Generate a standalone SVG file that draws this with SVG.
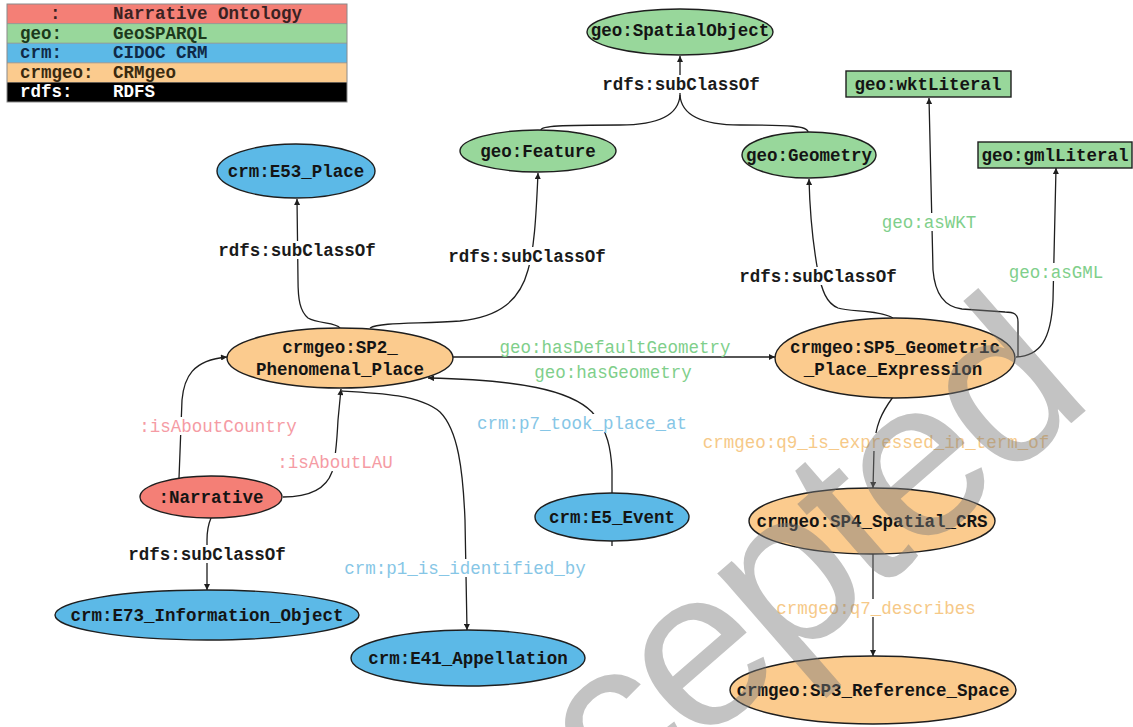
<svg xmlns="http://www.w3.org/2000/svg" width="1133" height="727" viewBox="0 0 1133 727">
<style>
text{font-family:"Liberation Mono","Courier New",monospace;font-size:17.5px}
.nt{font-weight:bold;fill:#141414;text-anchor:middle}
.lt{font-weight:bold;fill:#1a1a1a}
.el{text-anchor:middle}
.blk{font-weight:bold;fill:#1a1a1a}
.grn{fill:#7fcf8b}
.pnk{fill:#f59ba4}
.blu{fill:#86c6e6}
.org{fill:#f6c988}
.bg{fill:#ffffff}
ellipse,.box{stroke:#1e1e1e;stroke-width:1.4}
.r{fill:#f47f76}.g{fill:#98d79b}.b{fill:#5cb9e7}.o{fill:#fbcb8e}
.edge{fill:none;stroke:#1e1e1e;stroke-width:1.3}
.wm{font-family:"Liberation Sans",Arial,sans-serif;font-size:225px;letter-spacing:-8px;fill:#7b7b7b;fill-opacity:0.45}
</style>
<defs>
<marker id="ah" viewBox="0 0 10 10" refX="10" refY="5" markerWidth="7" markerHeight="6" markerUnits="userSpaceOnUse" orient="auto">
<path d="M0,0 L10,5 L0,10 z" fill="#1e1e1e"/>
</marker>
</defs>
<rect width="1133" height="727" fill="#ffffff"/>

<g id="legend">
<rect x="7" y="4" width="340" height="19.6" class="r"/>
<rect x="7" y="23.6" width="340" height="19.6" class="g"/>
<rect x="7" y="43.2" width="340" height="19.6" class="b"/>
<rect x="7" y="62.8" width="340" height="19.6" class="o"/>
<rect x="7" y="82.4" width="340" height="19.6" fill="#000"/>
<rect x="7" y="4" width="340" height="98" fill="none" stroke="#8a8a8a" stroke-width="1"/>
<g stroke="#8a8a8a" stroke-width="0.8"><line x1="7" y1="23.6" x2="347" y2="23.6"/><line x1="7" y1="43.2" x2="347" y2="43.2"/><line x1="7" y1="62.8" x2="347" y2="62.8"/></g>
<text x="50" y="19" class="lt" style="fill:#3a2222">:</text>
<text x="113" y="19" class="lt" style="fill:#3a2222">Narrative Ontology</text>
<text x="20" y="38.6" class="lt" style="fill:#1c3a1c">geo:</text>
<text x="113" y="38.6" class="lt" style="fill:#1c3a1c">GeoSPARQL</text>
<text x="20" y="58.2" class="lt" style="fill:#0f2a48">crm:</text>
<text x="113" y="58.2" class="lt" style="fill:#0f2a48">CIDOC CRM</text>
<text x="20" y="77.8" class="lt" style="fill:#3a2a10">crmgeo:</text>
<text x="113" y="77.8" class="lt" style="fill:#3a2a10">CRMgeo</text>
<text x="20" y="97.4" class="lt" style="fill:#ffffff">rdfs:</text>
<text x="113" y="97.4" class="lt" style="fill:#ffffff">RDFS</text>
</g>

<g id="connectors">
<path class="edge" d="M541,130 C541,126 560,125 620,125 C668,125 679,110 680,95 L680,56" marker-end="url(#ah)"/>
<path class="edge" d="M808,132 C808,126 790,125 740,125 C692,125 681,110 680,95"/>
<path class="edge" d="M340,328 C336,322 318,324 308,318 C300,311 298,300 298,280 L297,199" marker-end="url(#ah)"/>
<path class="edge" d="M370,328 C380,322 420,324 460,321 C500,317 520,300 528,270 C534,250 536,220 538,173" marker-end="url(#ah)"/>
<path class="edge" d="M893,318 C880,310 850,312 838,308 C826,303 822,290 818,272 C814,250 810,220 809,179" marker-end="url(#ah)"/>
<path class="edge" d="M1018,357 L1018,322 C1018,314 1014,312 1005,312 L962,309 C945,307 935,295 933,270 L929,98" marker-end="url(#ah)"/>
<path class="edge" d="M1016,357 C1040,356 1051,340 1053,300 L1056,168" marker-end="url(#ah)"/>
<path class="edge" d="M453,357 L775,357" marker-end="url(#ah)"/>
<path class="edge" d="M612,546 L612,470 C611,450 608,430 592,412 C570,390 520,380 428,378" marker-end="url(#ah)"/>
<path class="edge" d="M179,478 L182,400 C184,378 192,360 227,357" marker-end="url(#ah)"/>
<path class="edge" d="M283,497 C305,497 325,492 332,472 C336,458 337,440 338,420 L341,389" marker-end="url(#ah)"/>
<path class="edge" d="M342,391 C380,393 420,395 440,412 C458,430 463,470 465,520 L467,630" marker-end="url(#ah)"/>
<path class="edge" d="M211,518 C208,525 207,530 207,540 L207,590" marker-end="url(#ah)"/>
<path class="edge" d="M893,397 C882,412 875,425 874,450 L873,488" marker-end="url(#ah)"/>
<path class="edge" d="M873,554 L873,656" marker-end="url(#ah)"/>

<rect class="bg" x="602" y="75" width="158" height="18"/>
<rect class="bg" x="218" y="241" width="158" height="18"/>
<rect class="bg" x="448" y="247" width="158" height="18"/>
<rect class="bg" x="739" y="267" width="158" height="18"/>
<rect class="bg" x="128" y="545" width="158" height="18"/>
<rect class="bg" x="881" y="213" width="96" height="18"/>
<rect class="bg" x="1008" y="263" width="96" height="18"/>
<rect class="bg" x="139" y="417" width="160" height="18"/>
<rect class="bg" x="277" y="453" width="117" height="18"/>
<rect class="bg" x="477" y="414" width="211" height="18"/>
<rect class="bg" x="344" y="559" width="243" height="18"/>
<rect class="bg" x="702" y="433" width="348" height="18"/>
<rect class="bg" x="775" y="599" width="201" height="18"/>

<text class="el blk" x="681" y="90">rdfs:subClassOf</text>
<text class="el blk" x="297" y="256">rdfs:subClassOf</text>
<text class="el blk" x="527" y="262">rdfs:subClassOf</text>
<text class="el blk" x="818" y="282">rdfs:subClassOf</text>
<text class="el blk" x="207" y="560">rdfs:subClassOf</text>
<text class="el grn" x="929" y="228">geo:asWKT</text>
<text class="el grn" x="1056" y="278">geo:asGML</text>
<text class="el grn" x="615" y="353">geo:hasDefaultGeometry</text>
<text class="el grn" x="613" y="378">geo:hasGeometry</text>
<text class="el pnk" x="218" y="432">:isAboutCountry</text>
<text class="el pnk" x="335" y="468">:isAboutLAU</text>
<text class="el blu" x="582" y="429">crm:p7_took_place_at</text>
<text class="el blu" x="465" y="574">crm:p1_is_identified_by</text>
<text class="el org" x="876" y="448">crmgeo:q9_is_expressed_in_term_of</text>
<text class="el org" x="876" y="614">crmgeo:q7_describes</text>
</g>

<g id="n-spatialobject"><ellipse cx="680" cy="32" rx="93" ry="23" class="g"/><text class="nt" x="680" y="36">geo:SpatialObject</text></g>
<g id="n-feature"><ellipse cx="538" cy="151" rx="78" ry="21" class="g"/><text class="nt" x="538" y="157">geo:Feature</text></g>
<g id="n-geometry"><ellipse cx="809" cy="155" rx="67" ry="23" class="g"/><text class="nt" x="809" y="161">geo:Geometry</text></g>
<g id="n-wkt"><rect x="846" y="71" width="165" height="26" class="box g"/><text class="nt" x="928" y="90">geo:wktLiteral</text></g>
<g id="n-gml"><rect x="978" y="142" width="154" height="26" class="box g"/><text class="nt" x="1055" y="161">geo:gmlLiteral</text></g>
<g id="n-e53"><ellipse cx="296" cy="171" rx="79" ry="27" class="b"/><text class="nt" x="296" y="177">crm:E53_Place</text></g>
<g id="n-sp2"><ellipse cx="340" cy="358" rx="113" ry="30" class="o"/><text class="nt" x="340" y="353">crmgeo:SP2_</text><text class="nt" x="340" y="375">Phenomenal_Place</text></g>
<g id="n-sp5"><ellipse cx="895" cy="358" rx="120" ry="40" class="o"/><text class="nt" x="895" y="353">crmgeo:SP5_Geometric</text><text class="nt" x="893" y="375">_Place_Expression</text></g>
<g id="n-narrative"><ellipse cx="211" cy="497" rx="71" ry="21" class="r"/><text class="nt" x="211" y="503">:Narrative</text></g>
<g id="n-e73"><ellipse cx="207" cy="615" rx="152" ry="25" class="b"/><text class="nt" x="207" y="621">crm:E73_Information_Object</text></g>
<g id="n-e41"><ellipse cx="468" cy="658" rx="117" ry="28" class="b"/><text class="nt" x="468" y="664">crm:E41_Appellation</text></g>
<g id="n-e5"><ellipse cx="612" cy="517" rx="77" ry="24" class="b"/><text class="nt" x="612" y="523">crm:E5_Event</text></g>
<g id="n-sp4"><ellipse cx="872" cy="521" rx="123" ry="33" class="o"/><text class="nt" x="872" y="527">crmgeo:SP4_Spatial_CRS</text></g>
<g id="n-sp3"><ellipse cx="873" cy="690" rx="143" ry="34" class="o"/><text class="nt" x="873" y="696">crmgeo:SP3_Reference_Space</text></g>

<text class="wm" transform="translate(431,980) rotate(-41)">Accepted</text>
</svg>
